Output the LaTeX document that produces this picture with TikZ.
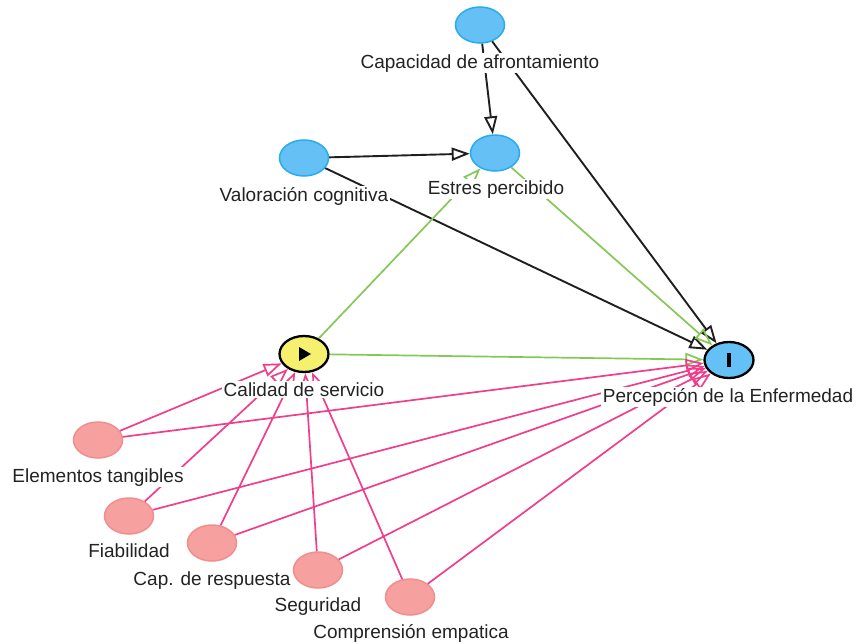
\documentclass[tikz,border=0pt]{standalone}
\usepackage{fontspec}
\setmainfont{Liberation Sans}
\usetikzlibrary{arrows.meta,shapes.geometric}
\definecolor{bluefill}{RGB}{100,192,245}
\definecolor{bluedraw}{RGB}{40,172,240}
\definecolor{pinkfill}{RGB}{246,160,160}
\definecolor{pinkdraw}{RGB}{240,142,142}
\definecolor{yellowfill}{RGB}{245,240,110}
\definecolor{pinkedge}{RGB}{240,62,140}
\definecolor{greenedge}{RGB}{132,200,86}
\definecolor{txt}{RGB}{35,35,35}
\begin{document}
\begin{tikzpicture}[x=1pt,y=-1pt,
  var/.style={ellipse, minimum width=49pt, minimum height=36pt, inner sep=0pt, line width=1.5pt},
  bluev/.style={var, draw=bluedraw, fill=bluefill},
  pinkv/.style={var, draw=pinkdraw, fill=pinkfill},
  lbl/.style={anchor=base, fill=white, inner sep=1.5pt, text=txt, font=\fontsize{19}{22}\selectfont},
  blk/.style={draw=black!88, line width=1.9pt, -{Triangle[open,length=18pt,width=13pt]}},
  grn/.style={draw=greenedge, line width=1.7pt, -{Triangle[open,length=18pt,width=13pt]}},
  pnk/.style={draw=pinkedge, line width=1.7pt, -{Triangle[open,length=18pt,width=13pt]}}]
\useasboundingbox (0,0) rectangle (856,643);
% nodes
\node[bluev] (CA) at (480,25) {};
\node[bluev] (EP) at (495,153) {};
\node[bluev] (VC) at (304,158) {};
\node[var, draw=black, line width=2.3pt, fill=yellowfill] (CS) at (304,354) {};
\node[var, draw=black, line width=2.3pt, fill=bluefill] (PE) at (729,360) {};
\node[pinkv] (ET) at (98,440) {};
\node[pinkv] (F) at (129,516) {};
\node[pinkv] (CR) at (212,543) {};
\node[pinkv] (S) at (318,570) {};
\node[pinkv] (CE) at (410,597) {};
% icons
\fill[black] ([xshift=-5pt,yshift=-7pt]CS.center) -- ([xshift=-5pt,yshift=7pt]CS.center) -- ([xshift=7pt]CS.center) -- cycle;
\fill[black] ([xshift=-2pt,yshift=-7pt]PE.center) rectangle ([xshift=2pt,yshift=7pt]PE.center);
% black edges
\draw[blk] (CA) -- (EP);
\draw[blk] (VC) -- (EP);
\draw[blk] (VC) -- (PE);
\draw[blk] (CA) -- (PE);
% green edges
\draw[grn] (CS) -- (EP);
\draw[grn] (CS) -- (PE);
\draw[grn] (EP) -- (PE);
% pink edges
\foreach \n in {ET,F,CR,S,CE}{
  \draw[pnk] (\n) -- (CS);
  \draw[pnk] (\n) -- (PE);
}
% labels
\node[lbl] (lCA) at (480,68) {Capacidad de afrontamiento};
\node[lbl] (lEP) at (496,194) {Estres percibido};
\node[lbl] (lVC) at (304,201) {Valoración cognitiva};
\node[lbl] (lCS) at (304,396) {Calidad de servicio};
\node[lbl] (lPE) at (728,402) {Percepción de la Enfermedad};
\node[lbl] (lET) at (98,482) {Elementos tangibles};
\node[lbl] (lF) at (129,557) {Fiabilidad};
\node[lbl] (lCR) at (212,585) {Cap. de respuesta};
\node[lbl] (lS) at (318,611) {Seguridad};
\node[lbl] (lCE) at (411,638) {Comprensión empatica};
\end{tikzpicture}
\end{document}
